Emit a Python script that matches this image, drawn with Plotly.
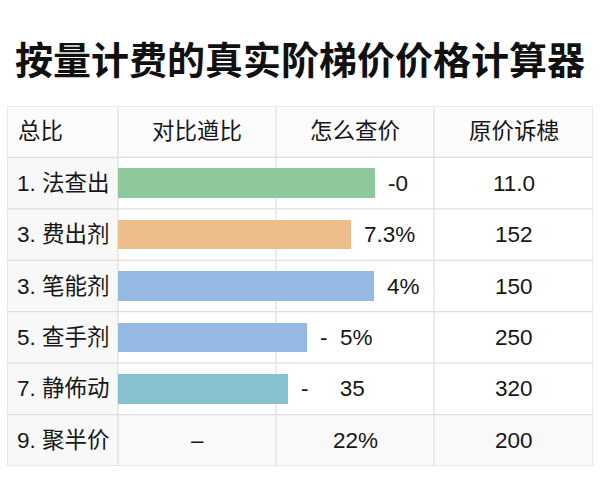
import plotly.graph_objects as go

# ---------------- data ----------------
title = "按量计费的真实阶梯价价格计算器"
headers = ["总比", "对比遒比", "怎么查价", "原价诉槵"]
row_labels = ["1. 法查出", "3. 费出剂", "3. 笔能剂", "5. 查手剂", "7. 静佈动", "9. 聚半价"]
bar_values = [81.3, 73.7, 81.0, 59.8, 53.8]          # % of the bar area width
bar_labels = ["-0", "7.3%", "4%", "-\u00a0\u00a05%", "-\u00a0\u00a0\u00a0\u00a0\u00a035"]
bar_colors = ["#8fc89b", "#edbe8b", "#94b9e3", "#94b9e3", "#87c1cf"]
last_row_mid = ["–", "22%"]
prices = ["11.0", "152", "150", "250", "320", "200"]

# ---------------- layout constants ----------------
W, H = 600, 500
tbl_left, tbl_right, tbl_top, tbl_bottom = 7, 593, 106, 466
col_edges = [0, 111, 269, 427, 586]       # x-axis units (px from table left)
n_rows = len(row_labels)
FONT = "Liberation Sans, Arial, Noto Sans CJK SC, sans-serif"
TXT = "#161616"
GRID = "#dedede"
FS = 22.5

fig = go.Figure()

fig.add_trace(go.Bar(
    x=bar_values, y=list(range(len(bar_values))), orientation="h",
    xaxis="x2", yaxis="y", width=0.58,
    marker=dict(color=bar_colors, line=dict(width=0)),
    hoverinfo="skip", showlegend=False,
))

shapes = []
# cell backgrounds
shapes.append(dict(type="rect", xref="x", yref="y", x0=col_edges[0], x1=col_edges[-1],
                   y0=-1.5, y1=-0.5, fillcolor="#fcfcfc", line_width=0, layer="below"))
shapes.append(dict(type="rect", xref="x", yref="y", x0=col_edges[0], x1=col_edges[1],
                   y0=-0.5, y1=n_rows - 0.5, fillcolor="#f8f8f8", line_width=0, layer="below"))
shapes.append(dict(type="rect", xref="x", yref="y", x0=col_edges[1], x1=col_edges[-1],
                   y0=n_rows - 1.5, y1=n_rows - 0.5, fillcolor="#f9f9f9", line_width=0, layer="below"))
# grid lines
for i in range(n_rows + 2):
    yy = -1.5 + i
    shapes.append(dict(type="line", xref="x", yref="y", x0=col_edges[0], x1=col_edges[-1],
                       y0=yy, y1=yy, line=dict(color=GRID, width=1.2), layer="below"))
for xe in col_edges:
    shapes.append(dict(type="line", xref="x", yref="y", x0=xe, x1=xe,
                       y0=-1.5, y1=n_rows - 0.5, line=dict(color=GRID, width=1.2), layer="below"))

ann = []
ann.append(dict(text="<b>" + title + "</b>", xref="paper", yref="paper", x=0.5, y=1 - 58 / H,
                xanchor="center", yanchor="middle", showarrow=False,
                font=dict(family="Noto Sans CJK SC, sans-serif", size=38, color="#111111")))

def centre(c):
    return (col_edges[c] + col_edges[c + 1]) / 2

# header
for c, h in enumerate(headers):
    if c == 0:
        ann.append(dict(text=h, xref="x", yref="y", x=col_edges[0], y=-1, xanchor="left",
                        xshift=9, yanchor="middle", showarrow=False,
                        font=dict(family=FONT, size=FS, color=TXT)))
    else:
        ann.append(dict(text=h, xref="x", yref="y", x=centre(c), y=-1, xanchor="center",
                        yanchor="middle", showarrow=False,
                        font=dict(family=FONT, size=FS, color=TXT)))
# row labels and prices
for r, lab in enumerate(row_labels):
    ann.append(dict(text=lab, xref="x", yref="y", x=col_edges[0], y=r, xanchor="left",
                    xshift=8, yanchor="middle", showarrow=False,
                    font=dict(family=FONT, size=FS, color=TXT)))
    ann.append(dict(text=prices[r], xref="x", yref="y", x=centre(3), y=r, xanchor="center",
                    yanchor="middle", showarrow=False,
                    font=dict(family=FONT, size=FS, color=TXT)))
# bar labels
for r, (v, t) in enumerate(zip(bar_values, bar_labels)):
    ann.append(dict(text=t, xref="x2", yref="y", x=v, y=r, xanchor="left", xshift=11,
                    yanchor="middle", showarrow=False,
                    font=dict(family=FONT, size=FS, color=TXT)))
# last row middle cells
for k, t in enumerate(last_row_mid):
    ann.append(dict(text=t, xref="x", yref="y", x=centre(1 + k), y=n_rows - 1, xanchor="center",
                    yanchor="middle", showarrow=False,
                    font=dict(family=FONT, size=FS, color=TXT)))

fig.update_layout(
    width=W, height=H, margin=dict(l=0, r=0, t=0, b=0),
    paper_bgcolor="white", plot_bgcolor="rgba(0,0,0,0)",
    xaxis=dict(domain=[tbl_left / W, tbl_right / W], range=[0, col_edges[-1]], visible=False,
               fixedrange=True),
    xaxis2=dict(domain=[(tbl_left + col_edges[1]) / W, (tbl_left + col_edges[3]) / W],
                range=[0, 100], visible=False, anchor="y", fixedrange=True),
    yaxis=dict(domain=[1 - tbl_bottom / H, 1 - tbl_top / H], range=[n_rows - 0.5, -1.5],
               visible=False, fixedrange=True),
    shapes=shapes, annotations=ann, showlegend=False, bargap=0,
)

fig.write_html("out.html")
